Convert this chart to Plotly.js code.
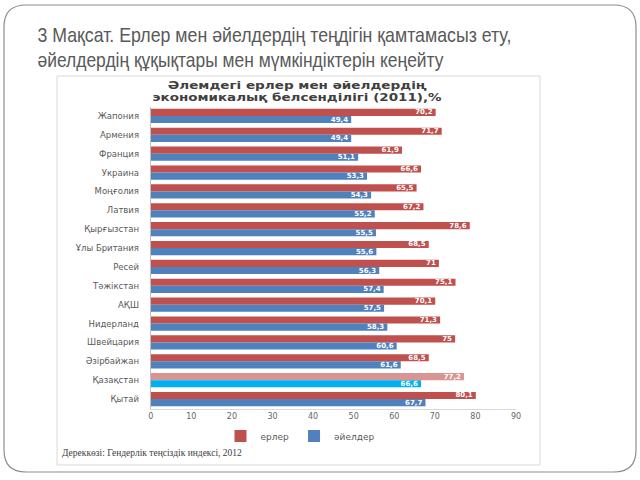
<!DOCTYPE html>
<html>
<head>
<meta charset="utf-8">
<script src="https://cdn.plot.ly/plotly-3.0.1.min.js"></script>
<style>
  html, body { margin: 0; padding: 0; background: #fff; }
  #chart { width: 640px; height: 480px; }
</style>
</head>
<body>
<div id="chart"></div>
<script>
// Data
const countries = ["Жапония", "Армения", "Франция", "Украина", "Моңғолия", "Латвия",
    "Қырғызстан", "Ұлы Британия", "Ресей", "Тәжікстан", "АҚШ", "Нидерланд",
    "Швейцария", "Әзірбайжан", "Қазақстан", "Қытай"];
const men = [70.2, 71.7, 61.9, 66.6, 65.5, 67.2, 78.6, 68.5, 71, 75.1, 70.1, 71.3, 75, 68.5, 77.2, 80.1];
const women = [49.4, 49.4, 51.1, 53.3, 54.3, 55.2, 55.5, 55.6, 56.3, 57.4, 57.5, 58.3, 60.6, 61.6, 66.6, 67.7];
const highlight = "Қазақстан";

const W = 640, H = 480;
const px = x => x / W;
const py = y => 1 - y / H;

// comma decimals like the original
const fmt = v => String(v).replace(".", ",");

const red = "#C0504D", redHi = "#D99594";
const blue = "#4F81BD", blueHi = "#00B0F0";

const traceMen = {
    y: countries,
    x: men,
    name: "ерлер",
    type: "bar",
    orientation: "h",
    marker: { color: countries.map(c => c === highlight ? redHi : red) },
    text: men.map(fmt),
    textposition: "inside",
    insidetextanchor: "end",
    constraintext: "none",
    textfont: { family: "DejaVu Sans", size: 7, color: "#fff", weight: "bold" },
    hoverinfo: "x+y"
};

const traceWomen = {
    y: countries,
    x: women,
    name: "әйелдер",
    type: "bar",
    orientation: "h",
    marker: { color: countries.map(c => c === highlight ? blueHi : blue) },
    text: women.map(fmt),
    textposition: "inside",
    insidetextanchor: "end",
    constraintext: "none",
    textfont: { family: "DejaVu Sans", size: 7, color: "#fff", weight: "bold" },
    hoverinfo: "x+y"
};

// rounded slide frame, in pixels then converted to paper
function roundRect(x0, y0, x1, y1, r) {
    return `M ${px(x0 + r)},${py(y0)} L ${px(x1 - r)},${py(y0)} Q ${px(x1)},${py(y0)} ${px(x1)},${py(y0 + r)}` +
        ` L ${px(x1)},${py(y1 - r)} Q ${px(x1)},${py(y1)} ${px(x1 - r)},${py(y1)}` +
        ` L ${px(x0 + r)},${py(y1)} Q ${px(x0)},${py(y1)} ${px(x0)},${py(y1 - r)}` +
        ` L ${px(x0)},${py(y0 + r)} Q ${px(x0)},${py(y0)} ${px(x0 + r)},${py(y0)} Z`;
}

const narrow = "Liberation Sans Narrow, Arial Narrow, Liberation Sans, sans-serif";

const layout = {
    width: W,
    height: H,
    autosize: false,
    margin: { t: 0, b: 0, l: 0, r: 0 },
    paper_bgcolor: "#fff",
    plot_bgcolor: "#fff",
    barmode: "group",
    bargap: 0.24,
    bargroupgap: 0,
    showlegend: true,
    legend: {
        orientation: "h",
        x: px(300), xanchor: "center",
        y: py(436), yanchor: "middle",
        font: { family: "DejaVu Sans", size: 9, color: "#595959" },
        itemwidth: 30
    },
    xaxis: {
        domain: [px(150.7), px(516)],
        range: [0, 90],
        dtick: 10,
        showgrid: false,
        zeroline: false,
        showline: true,
        linecolor: "#d9d9d9",
        ticks: "",
        tickfont: { family: "DejaVu Sans", size: 8, color: "#666666" }
    },
    yaxis: {
        domain: [py(408.5), py(106.5)],
        autorange: "reversed",
        showgrid: false,
        showline: true,
        linecolor: "#bfbfbf",
        ticks: "",
        ticklabelstandoff: 9,
        tickfont: { family: "DejaVu Sans", size: 8.5, color: "#595959" }
    },
    shapes: [
        { type: "path", xref: "paper", yref: "paper", path: roundRect(4, 5, 636, 472, 22),
          line: { color: "#8c8c8c", width: 1.2 }, layer: "below" },
        { type: "rect", xref: "paper", yref: "paper",
          x0: px(57), x1: px(540), y0: py(465), y1: py(76),
          line: { color: "#d9d9d9", width: 1 }, layer: "below" }
    ],
    annotations: [
        { text: "3 Мақсат. Ерлер мен әйелдердің теңдігін қамтамасыз ету,", xref: "paper", yref: "paper",
          x: px(274), y: py(35), xanchor: "center", yanchor: "middle", showarrow: false,
          font: { family: narrow, size: 21, color: "#595959" } },
        { text: "әйелдердің құқықтары мен мүмкіндіктерін кеңейту", xref: "paper", yref: "paper",
          x: px(240), y: py(59), xanchor: "center", yanchor: "middle", showarrow: false,
          font: { family: narrow, size: 21, color: "#595959" } },
        { text: "<b>Әлемдегі ерлер мен әйелдердің</b>", xref: "paper", yref: "paper",
          x: px(297.5), y: py(85), xanchor: "center", yanchor: "middle", showarrow: false,
          font: { family: "DejaVu Sans", size: 11, color: "#404040" } },
        { text: "<b>экономикалық белсенділігі (2011),%</b>", xref: "paper", yref: "paper",
          x: px(297), y: py(97.5), xanchor: "center", yanchor: "middle", showarrow: false,
          font: { family: "DejaVu Sans", size: 11, color: "#404040" } },
        { text: "Дереккөзі: Гендерлік теңсіздік индексі, 2012", xref: "paper", yref: "paper",
          x: px(60), y: py(453), xanchor: "left", yanchor: "middle", showarrow: false,
          font: { family: "Liberation Serif", size: 9.5, color: "#404040" } }
    ]
};

// widths of the text lines as measured on the slide
const textWidths = { 0: 474, 1: 406, 2: 259, 3: 289 };

Plotly.newPlot("chart", [traceMen, traceWomen], layout, { displayModeBar: false, staticPlot: true })
    .then(gd => {
        Object.entries(textWidths).forEach(([idx, w]) => {
            const el = gd.querySelector(`.annotation[data-index="${idx}"] text.annotation-text`);
            if (el) {
                el.setAttribute("textLength", w);
                el.setAttribute("lengthAdjust", "spacingAndGlyphs");
            }
        });
    });
</script>
</body>
</html>
